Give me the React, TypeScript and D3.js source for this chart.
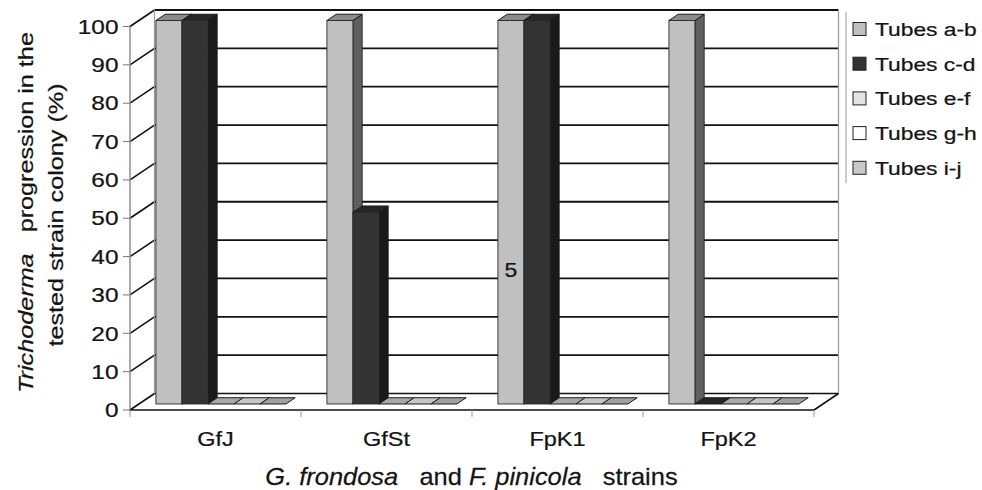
import React from 'react';
import * as d3 from 'd3';

const categories = ['GfJ', 'GfSt', 'FpK1', 'FpK2'];
const seriesNames = ['Tubes a-b', 'Tubes c-d', 'Tubes e-f', 'Tubes g-h', 'Tubes i-j'];
const tubesAB = [100, 100, 100, 100];
const tubesCD = [100, 50, 100, 0];
const tubesEF = [0, 0, 0, 0];
const tubesGH = [0, 0, 0, 0];
const tubesIJ = [0, 0, 0, 0];
const seriesValues = [tubesAB, tubesCD, tubesEF, tubesGH, tubesIJ];
const yTicks = [0, 10, 20, 30, 40, 50, 60, 70, 80, 90, 100];
const annotationCategory = 'FpK1';
const annotationSeries = 'Tubes a-b';
const annotationValue = 35;
const annotationText = '5';

const FONT = "'Liberation Sans', Arial, Helvetica, sans-serif";

const faceStyles = [
  { front: '#c0c0c0', top: '#8c8c8c', side: '#5f5f5f', legend: '#c0c0c0' },
  { front: '#333333', top: '#262626', side: '#1a1a1a', legend: '#333333' },
  { front: '#e2e2e2', top: '#a8a8a8', side: '#888888', legend: '#e4e4e4' },
  { front: '#ffffff', top: '#c6c6c6', side: '#999999', legend: '#ffffff' },
  { front: '#c4c4c4', top: '#a0a0a0', side: '#777777', legend: '#c8c8c8' },
];

export default function App() {
  const frontLeft = 130;
  const frontRight = 814;
  const floorY = 410;
  const DX = 24.5;
  const DY = -16.5;
  const hScale = d3.scaleLinear().domain([0, 100]).range([0, 383.5]);
  const yF = (v: number) => floorY - hScale(v);
  const yB = (v: number) => floorY + DY - hScale(v);

  const x0 = d3.scaleBand<string>().domain(categories).range([frontLeft, frontRight]).padding(0);
  const x1 = d3.scaleBand<string>().domain(seriesNames).range([17, 147]).padding(0);

  const faceFrac = 0.364;
  const faceDX = faceFrac * DX;
  const faceDY = faceFrac * DY;
  const bdx = 0.38 * DX;
  const bdy = 0.38 * DY;

  const backL = frontLeft + DX;
  const backR = frontRight + DX;

  const bars: JSX.Element[] = [];
  categories.forEach((cat, ci) => {
    seriesNames.forEach((s, si) => {
      const v = seriesValues[si][ci];
      const st = faceStyles[si];
      const x = (x0(cat) as number) + (x1(s) as number) + faceDX;
      const w = x1.bandwidth();
      const yb = floorY + faceDY;
      const yt = yb - hScale(v);
      const top = `${x},${yt} ${x + w},${yt} ${x + w + bdx},${yt + bdy} ${x + bdx},${yt + bdy}`;
      const side = `${x + w},${yt} ${x + w + bdx},${yt + bdy} ${x + w + bdx},${yb + bdy} ${x + w},${yb}`;
      bars.push(
        <g key={`${cat}-${s}`}>
          {v > 0 && <polygon points={side} fill={st.side} stroke="#1a1a1a" strokeWidth={0.8} />}
          <polygon points={top} fill={st.top} stroke="#1a1a1a" strokeWidth={1} />
          {v > 0 && <rect x={x} y={yt} width={w} height={yb - yt} fill={st.front} stroke="#2a2a2a" strokeWidth={0.9} />}
        </g>
      );
    });
  });

  const annX = (x0(annotationCategory) as number) + (x1(annotationSeries) as number) + faceDX + x1.bandwidth() / 2;
  const annY = floorY + faceDY - hScale(annotationValue);

  const legendX = 853;
  const legendY0 = 29;
  const legendStep = 34.7;
  const txt = { fill: '#141414', stroke: '#141414', strokeWidth: 0.25 };

  return (
    <svg width={982} height={490} style={{ position: 'absolute', left: 0, top: 0, background: '#fff' }} fontFamily={FONT}>
      <rect x={0} y={0} width={982} height={490} fill="#fff" />
      <polygon
        points={`${frontLeft},${floorY} ${frontRight},${floorY} ${backR},${floorY + DY} ${backL},${floorY + DY}`}
        fill="#fff"
      />
      {yTicks.map((t) => (
        <g key={`g${t}`}>
          <line x1={backL} x2={backR} y1={yB(t)} y2={yB(t)} stroke="#111" strokeWidth={t === 0 ? 1.4 : 1.8} />
          <line x1={frontLeft} x2={backL} y1={yF(t)} y2={yB(t)} stroke="#111" strokeWidth={1.6} />
          <line x1={frontLeft - 7} x2={frontLeft} y1={yF(t)} y2={yF(t)} stroke="#777" strokeWidth={1} />
        </g>
      ))}
      <line x1={backL} x2={backL} y1={yB(100)} y2={yB(0)} stroke="#999" strokeWidth={1.2} />
      <line x1={backR} x2={backR} y1={yB(100)} y2={yB(0)} stroke="#999" strokeWidth={1.2} />
      <line x1={frontLeft} x2={frontLeft} y1={yF(100)} y2={yF(0)} stroke="#888" strokeWidth={1.4} />
      <line x1={frontLeft} x2={frontRight} y1={floorY} y2={floorY} stroke="#111" strokeWidth={1.6} />
      <line x1={frontRight} x2={backR} y1={floorY} y2={floorY + DY} stroke="#111" strokeWidth={1.6} />
      {categories.map((c) => (
        <line key={`xt${c}`} x1={x0(c) as number} x2={x0(c) as number} y1={floorY} y2={floorY + 7} stroke="#999" strokeWidth={1} />
      ))}
      <line x1={frontRight} x2={frontRight} y1={floorY} y2={floorY + 7} stroke="#999" strokeWidth={1} />

      {bars}

      <text transform={`translate(${annX},${annY}) scale(1.15,1)`} textAnchor="middle" dy="0.35em" fontSize={20} {...txt}>
        {annotationText}
      </text>

      {yTicks.map((t) => (
        <text key={`yl${t}`} transform={`translate(118.5,${yF(t)}) scale(1.22,1)`} textAnchor="end" dy="0.36em" fontSize={20} {...txt}>
          {t}
        </text>
      ))}

      {categories.map((c) => (
        <text key={`cl${c}`} transform={`translate(${(x0(c) as number) + x0.bandwidth() / 2},445.5) scale(1.12,1)`} textAnchor="middle" fontSize={21} {...txt}>
          {c}
        </text>
      ))}

      <text transform={`translate(471.5,485) scale(1.06,1)`} textAnchor="middle" fontSize={24} {...txt} style={{ whiteSpace: 'pre' }}>
        <tspan fontStyle="italic">G. frondosa</tspan>
        <tspan>{'   and '}</tspan>
        <tspan fontStyle="italic">F. pinicola</tspan>
        <tspan>{'   strains'}</tspan>
      </text>

      <text transform={`translate(33,212.5) rotate(-90) scale(1.2,1)`} textAnchor="middle" fontSize={21} {...txt} style={{ whiteSpace: 'pre' }}>
        <tspan fontStyle="italic">Trichoderma</tspan>
        <tspan>{'   progression in the'}</tspan>
      </text>
      <text transform={`translate(63,215) rotate(-90) scale(1.2,1)`} textAnchor="middle" fontSize={21} {...txt}>
        tested strain colony (%)
      </text>

      <line x1={846} x2={846} y1={12} y2={183} stroke="#aaa" strokeWidth={1.2} />
      {seriesNames.map((s, i) => {
        const cy = legendY0 + i * legendStep;
        return (
          <g key={`lg${s}`}>
            <rect x={legendX} y={cy - 6.5} width={13} height={13} fill={faceStyles[i].legend} stroke="#222" strokeWidth={1} />
            <text transform={`translate(875,${cy}) scale(1.2,1)`} dy="0.36em" fontSize={19} {...txt}>
              {s}
            </text>
          </g>
        );
      })}
    </svg>
  );
}
